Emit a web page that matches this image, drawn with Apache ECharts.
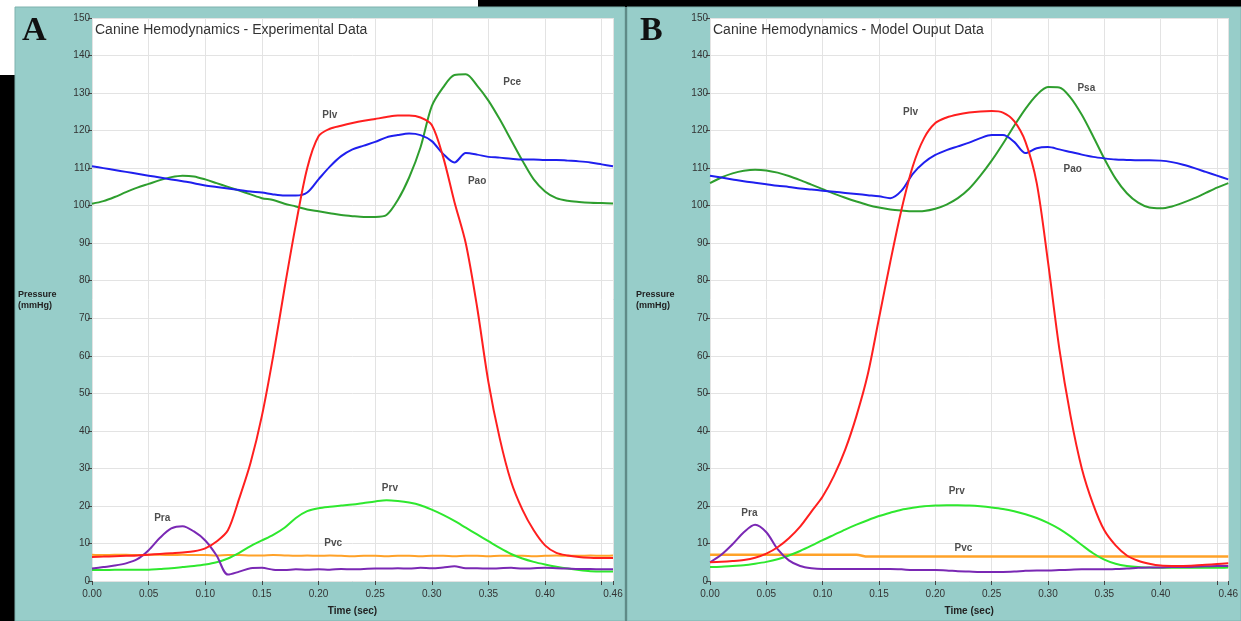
<!DOCTYPE html>
<html>
<head>
<meta charset="utf-8">
<script src="https://cdn.jsdelivr.net/npm/echarts@6.0.0/dist/echarts.min.js"></script>
<style>
  html, body { margin: 0; padding: 0; background: #fff; }
  #main { width: 1241px; height: 621px; }
</style>
</head>
<body>
<div id="main"></div>
<script>
// sample times (sec), shared by every trace
const time = [0.00, 0.01, 0.02, 0.03, 0.04, 0.05, 0.06, 0.07, 0.08, 0.09,
  0.10, 0.11, 0.12, 0.13, 0.14, 0.15, 0.16, 0.17, 0.18, 0.19,
  0.20, 0.21, 0.22, 0.23, 0.24, 0.25, 0.26, 0.27, 0.28, 0.29,
  0.30, 0.31, 0.32, 0.33, 0.34, 0.35, 0.36, 0.37, 0.38, 0.39,
  0.40, 0.41, 0.42, 0.43, 0.44, 0.45, 0.46]

// A - experimental data (mmHg)
const plvA = [6.4, 6.5, 6.6, 6.7, 6.8, 7.0, 7.2, 7.4, 7.6, 7.9,
  8.7, 10.5, 13.5, 22, 31.5, 44, 60, 78, 95, 110,
  118.5, 120.5, 121.3, 122, 122.6, 123.1, 123.6, 124, 124, 123.5,
  121.5, 113, 101, 90, 73, 53, 38, 26.5, 19, 13.5,
  9.5, 7.5, 6.8, 6.4, 6.2, 6.1, 6.1]
const paoA = [110.5, 110, 109.5, 109, 108.5, 108, 107.5, 107, 106.5, 106,
  105.4, 105, 104.6, 104.2, 103.8, 103.5, 103, 102.7, 102.7, 103.5,
  107, 110.4, 113.2, 115, 116, 117, 118.2, 118.8, 119.2, 118.8,
  117.2, 113.8, 111.5, 114, 113.6, 113, 112.8, 112.5, 112.3, 112.3,
  112.2, 112.2, 112, 111.8, 111.5, 111, 110.5]
const pceA = [100.5, 101.2, 102.3, 103.6, 104.8, 105.8, 106.8, 107.6, 108, 107.8,
  107, 106, 105, 104, 103, 102, 101.5, 100.5, 99.8, 99,
  98.5, 98, 97.5, 97.2, 97, 97, 97.5, 101.5, 107.5, 115.5,
  126.5, 131.5, 134.8, 135, 132, 128, 123, 117.5, 112, 107,
  103.8, 102, 101.3, 101, 100.8, 100.7, 100.6]
const prvA = [2.9, 2.9, 3.0, 3.0, 3.0, 3.0, 3.2, 3.4, 3.7, 4.0,
  4.4, 5.0, 6.0, 7.5, 9.3, 10.8, 12.3, 14.2, 16.8, 18.6,
  19.4, 19.8, 20.1, 20.4, 20.8, 21.2, 21.5, 21.3, 20.9, 20.2,
  19.0, 17.6, 16.0, 14.2, 12.4, 10.6, 8.8, 7.2, 6.0, 5.1,
  4.4, 3.8, 3.3, 2.9, 2.6, 2.5, 2.5]
const pvcA = [7.0, 6.9, 7.0, 7.0, 6.9, 7.0, 7.0, 6.9, 7.0, 6.9,
  6.9, 6.8, 6.9, 6.9, 6.8, 6.8, 6.9, 6.8, 6.7, 6.8,
  6.7, 6.8, 6.7, 6.6, 6.7, 6.7, 6.6, 6.7, 6.7, 6.6,
  6.7, 6.7, 6.6, 6.7, 6.7, 6.6, 6.7, 6.7, 6.7, 6.6,
  6.7, 6.8, 6.7, 6.7, 6.8, 6.7, 6.8]
const praA = [3.3, 3.7, 4.1, 4.7, 5.8, 8.2, 11.5, 14.0, 14.6, 13.2,
  10.8, 6.8, 1.7, 2.5, 3.4, 3.5, 3.0, 2.9, 3.1, 3.0,
  3.1, 3.0, 3.2, 3.1, 3.2, 3.3, 3.3, 3.4, 3.3, 3.5,
  3.4, 3.6, 3.9, 3.4, 3.4, 3.3, 3.4, 3.5, 3.3, 3.4,
  3.5, 3.4, 3.3, 3.2, 3.2, 3.1, 3.1]

// B - model output data (mmHg)
const plvB = [5.0, 5.1, 5.3, 5.6, 6.2, 7.3, 9.0, 11.4, 14.5, 18.5,
  22.5, 28, 35, 44, 55, 70, 85, 99, 110.5, 118,
  122, 123.5, 124.3, 124.8, 125.1, 125.2, 124.8, 122.5, 117, 106,
  85, 62, 44, 30, 20.5, 13.5, 9.5, 6.8, 5.4, 4.6,
  4.1, 4.0, 4.0, 4.1, 4.3, 4.5, 4.7]
const paoB = [108, 107.5, 107, 106.5, 106.1, 105.7, 105.3, 105, 104.6, 104.3,
  104, 103.7, 103.4, 103.1, 102.8, 102.5, 102, 104, 108.5, 111.5,
  113.5, 114.8, 115.8, 116.8, 118, 118.8, 118.8, 117, 114, 115.3,
  115.6, 115, 114.3, 113.6, 113, 112.6, 112.3, 112.2, 112.1, 112.1,
  112, 111.6, 110.9, 110, 109, 108, 107]
const psaB = [106, 107.5, 108.6, 109.3, 109.6, 109.4, 108.8, 107.9, 106.8, 105.6,
  104.4, 103.2, 102.1, 101.1, 100.2, 99.5, 99, 98.7, 98.5, 98.6,
  99.2, 100.3, 102, 104.5, 108, 112, 116.5, 121.3, 125.8, 129.5,
  131.6, 131.5, 128.8, 124.2, 118.5, 112.5, 107.2, 103.3, 100.8, 99.5,
  99.3, 99.8, 100.8, 102, 103.4, 104.8, 106]
const prvB = [3.7, 3.8, 4.0, 4.2, 4.6, 5.1, 5.8, 6.8, 8.0, 9.4,
  10.9, 12.3, 13.7, 15.0, 16.2, 17.3, 18.2, 19.0, 19.5, 19.9,
  20.1, 20.2, 20.2, 20.1, 19.9, 19.6, 19.2, 18.6, 17.8, 16.8,
  15.5, 13.9, 11.9, 9.6, 7.4, 5.7, 4.6, 4.0, 3.7, 3.6,
  3.5, 3.5, 3.5, 3.5, 3.5, 3.5, 3.6]
const pvcB = [7.0, 7.0, 7.0, 7.0, 7.0, 7.0, 7.0, 7.0, 7.0, 7.0,
  7.0, 7.0, 7.0, 7.0, 6.5, 6.5, 6.5, 6.5, 6.5, 6.5,
  6.5, 6.5, 6.5, 6.5, 6.5, 6.5, 6.5, 6.5, 6.5, 6.5,
  6.5, 6.5, 6.5, 6.5, 6.5, 6.5, 6.5, 6.5, 6.5, 6.5,
  6.5, 6.5, 6.5, 6.5, 6.5, 6.5, 6.5]
const praB = [5.0, 7.0, 9.8, 13.0, 15.0, 13.0, 8.5, 5.5, 4.0, 3.4,
  3.2, 3.2, 3.2, 3.2, 3.2, 3.2, 3.2, 3.1, 2.9, 2.9,
  2.9, 2.8, 2.6, 2.5, 2.4, 2.4, 2.4, 2.5, 2.7, 2.8,
  2.8, 2.9, 3.0, 3.1, 3.1, 3.1, 3.2, 3.3, 3.5, 3.6,
  3.6, 3.7, 3.7, 3.8, 3.9, 4.0, 4.0]

// trace names drawn next to the curves: [text, time, pressure]
const labelsA = [['Plv', 0.210, 124], ['Pao', 0.340, 106.5], ['Pce', 0.371, 133],
  ['Prv', 0.263, 24.7], ['Pvc', 0.213, 10.1], ['Pra', 0.062, 16.7]]
const labelsB = [['Plv', 0.178, 124.8], ['Pao', 0.322, 109.6], ['Psa', 0.334, 131.4],
  ['Prv', 0.219, 23.9], ['Pvc', 0.225, 8.8], ['Pra', 0.035, 18]]

const colors = {
  plv: '#ff1f1f',
  pao: '#1f1fee',
  pce: '#2e9e2e',
  prv: '#2ee82e',
  pvc: '#ffa228',
  pra: '#7a28b4'
}

const teal = '#97cdc9'
const font = '"Liberation Sans", Arial, sans-serif'

const zip = vals => vals.map((v, i) => [time[i], v])

const chart = echarts.init(document.getElementById('main'), null, { renderer: 'canvas' })

// x axis: ticks every 0.05 plus the end at 0.46, no label at 0.45
function xAxisOf(idx) {
  return {
    type: 'value',
    gridIndex: idx,
    min: 0,
    max: 0.46,
    interval: 0.05,
    name: 'Time (sec)',
    nameLocation: 'middle',
    nameGap: 25,
    nameTextStyle: { fontFamily: font, fontSize: 10, fontWeight: 'bold', color: '#222' },
    axisLine: { show: false },
    axisTick: { show: true, length: 4, lineStyle: { color: '#444' } },
    axisLabel: {
      fontFamily: font,
      fontSize: 10,
      color: '#333',
      margin: 8,
      showMaxLabel: true,
      formatter: v => (Math.abs(v - 0.45) < 1e-6 ? '' : v.toFixed(2))
    },
    splitLine: { show: true, lineStyle: { color: '#e3e3e3', width: 1 } }
  }
}

function yAxisOf(idx) {
  return {
    type: 'value',
    gridIndex: idx,
    min: 0,
    max: 150,
    interval: 10,
    axisLine: { show: false },
    axisTick: { show: true, length: 4, lineStyle: { color: '#444' } },
    axisLabel: { fontFamily: font, fontSize: 10, color: '#333', margin: 2 },
    splitLine: { show: true, lineStyle: { color: '#e3e3e3', width: 1 } }
  }
}

function line(name, vals, color, idx, width) {
  return {
    name: name,
    type: 'line',
    xAxisIndex: idx,
    yAxisIndex: idx,
    data: zip(vals),
    showSymbol: false,
    smooth: 0.3,
    lineStyle: { color: color, width: width || 2 },
    itemStyle: { color: color },
    animation: false
  }
}

// curve names, placed in data space
function tags(list, idx) {
  return {
    type: 'scatter',
    xAxisIndex: idx,
    yAxisIndex: idx,
    symbolSize: 0,
    data: list.map(l => ({ name: l[0], value: [l[1], l[2]] })),
    label: {
      show: true,
      position: 'inside',
      formatter: p => p.name,
      fontFamily: font,
      fontSize: 10,
      fontWeight: 'bold',
      color: '#222'
    },
    z: 10,
    animation: false
  }
}

function panelText(letter, lx, title, tx) {
  return [
    { type: 'text', left: lx, top: 14, z: 5, style: { text: letter, font: 'bold 34px "Liberation Serif", "Times New Roman", serif', fill: '#111' } },
    { type: 'text', left: tx, top: 23, z: 5, style: { text: title, font: '14px ' + font, fill: '#333' } }
  ]
}

const option = {
  backgroundColor: '#fff',
  animation: false,
  grid: [
    { left: 92, top: 18, width: 521, height: 565, show: true, backgroundColor: '#fff', borderWidth: 0 },
    { left: 710, top: 18, width: 522, height: 565, show: true, backgroundColor: '#fff', borderWidth: 0 }
  ],
  xAxis: [xAxisOf(0), xAxisOf(1)],
  yAxis: [yAxisOf(0), yAxisOf(1)],
  graphic: [
    // page background pieces
    { type: 'rect', z: -10, shape: { x: 478, y: 0, width: 763, height: 7 }, style: { fill: '#000' } },
    { type: 'rect', z: -10, shape: { x: 0, y: 75, width: 15, height: 546 }, style: { fill: '#000' } },
    { type: 'rect', z: -10, shape: { x: 15, y: 7, width: 610, height: 614 }, style: { fill: teal, stroke: '#7fb2ae', lineWidth: 1 } },
    { type: 'rect', z: -10, shape: { x: 627, y: 7, width: 614, height: 614 }, style: { fill: teal, stroke: '#7fb2ae', lineWidth: 1 } },
    { type: 'rect', z: -10, shape: { x: 625, y: 7, width: 2, height: 614 }, style: { fill: '#5f8a87' } },
    ...panelText('A', 22, 'Canine Hemodynamics - Experimental Data', 95),
    ...panelText('B', 640, 'Canine Hemodynamics - Model Ouput Data', 713),
    { type: 'text', left: 18, top: 289, z: 5, style: { text: 'Pressure\n(mmHg)', font: 'bold 9px ' + font, fill: '#222', lineHeight: 11 } },
    { type: 'text', left: 636, top: 289, z: 5, style: { text: 'Pressure\n(mmHg)', font: 'bold 9px ' + font, fill: '#222', lineHeight: 11 } }
  ],
  series: [
    line('Pvc', pvcA, colors.pvc, 0),
    line('Prv', prvA, colors.prv, 0),
    line('Pra', praA, colors.pra, 0),
    line('Pce', pceA, colors.pce, 0),
    line('Pao', paoA, colors.pao, 0),
    line('Plv', plvA, colors.plv, 0),
    tags(labelsA, 0),
    line('Pvc', pvcB, colors.pvc, 1, 2.5),
    line('Prv', prvB, colors.prv, 1),
    line('Pra', praB, colors.pra, 1),
    line('Psa', psaB, colors.pce, 1),
    line('Pao', paoB, colors.pao, 1),
    line('Plv', plvB, colors.plv, 1),
    tags(labelsB, 1)
  ]
}

chart.setOption(option)
</script>
</body>
</html>
